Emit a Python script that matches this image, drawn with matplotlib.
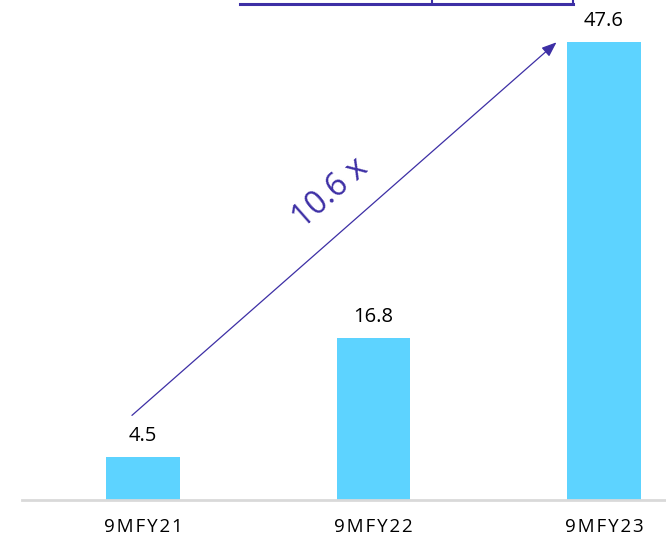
import matplotlib
matplotlib.use("Agg")
import matplotlib.pyplot as plt
from matplotlib.lines import Line2D

categories = ["9MFY21", "9MFY22", "9MFY23"]
values = [4.5, 16.8, 47.6]
growth_label = "10.6 x"

bar_color = "#5DD3FF"
purple = "#3D2FA5"
fam = ["Open Sans", "DejaVu Sans"]

fig = plt.figure(figsize=(6.66, 5.47), dpi=100)
ax = fig.add_axes([22/666, 47/547, 1 - 22/666, 500/547])
x = list(range(len(categories)))
ax.bar(x, values, width=0.317, color=bar_color, zorder=2)
ax.set_xlim(-0.525, 2.269)
ax.set_ylim(0, 52)
for xi, v in zip(x, values):
    ax.annotate(f"{v:.1f}", (xi, v), xytext=(0, 8), textcoords="offset points",
                ha="center", va="bottom", fontsize=14.5, family=fam, color="black")
ax.set_xticks(x)
ax.set_xticklabels(["\u200a".join(c) for c in categories])
for lbl in ax.get_xticklabels():
    lbl.set_fontsize(13.5)
    lbl.set_family(fam)
    lbl.set_color("black")
ax.tick_params(axis="x", length=0, pad=13)
ax.set_yticks([])
for s in ["top", "right", "left"]:
    ax.spines[s].set_visible(False)
ax.spines["bottom"].set_color("#D9D9D9")
ax.spines["bottom"].set_linewidth(2)

# growth arrow from first bar to last bar
ax.annotate("", xy=(1.794, 47.6), xytext=(-0.048, 8.8),
            arrowprops=dict(arrowstyle="-|>,head_length=0.9,head_width=0.35",
                            color=purple, lw=0.9, shrinkA=0, shrinkB=0))
ax.text(0.815, 31.9, growth_label, rotation=41.5, rotation_mode="anchor",
        ha="center", va="center", fontsize=23, color=purple, family=fam)

# partial bracket at top
fig.add_artist(Line2D([240/666, 573/666], [1 - 4/547, 1 - 4/547], color=purple, lw=2.2,
                      transform=fig.transFigure))
for px in [432, 573]:
    fig.add_artist(Line2D([px/666, px/666], [1 - 4/547, 1.0], color=purple, lw=1.5,
                          transform=fig.transFigure))

fig.savefig("out.png", dpi=100)
